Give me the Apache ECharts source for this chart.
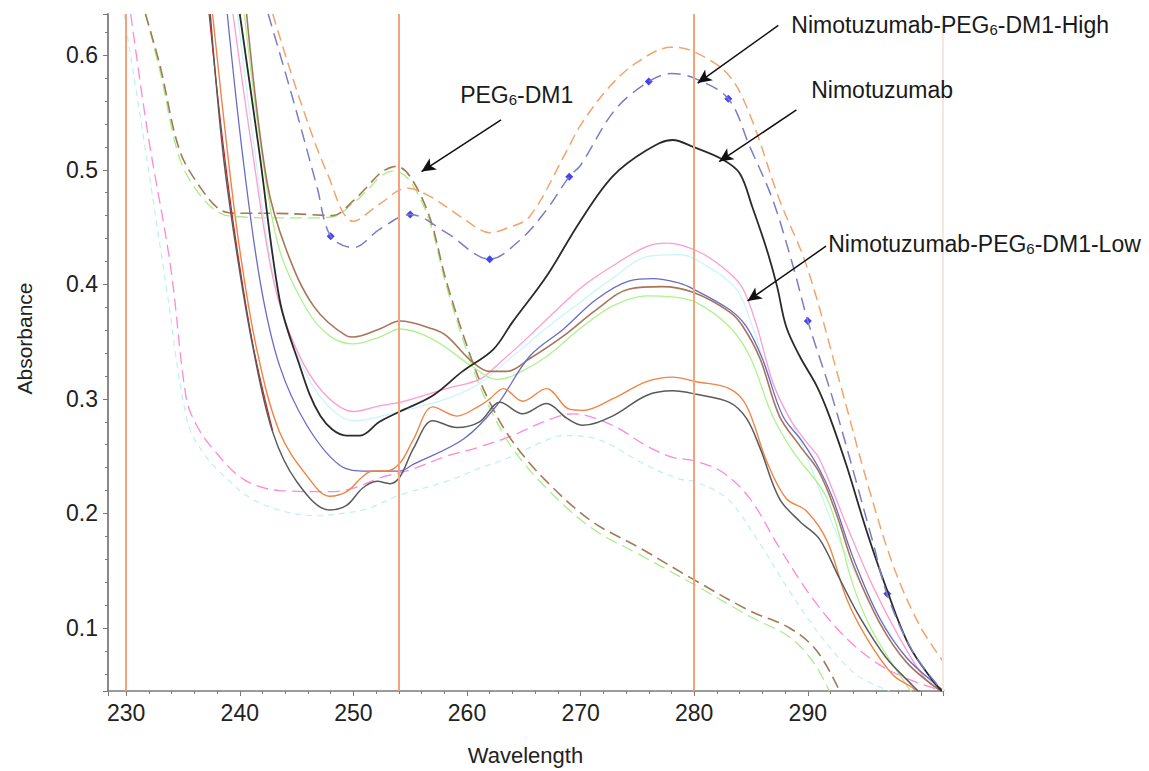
<!DOCTYPE html>
<html>
<head>
<meta charset="utf-8">
<title>UV absorbance spectra</title>
<script src="https://cdn.jsdelivr.net/npm/echarts@6/dist/echarts.min.js"></script>
<style>
  html, body { margin: 0; padding: 0; background: #fff; }
  #chart { width: 1149px; height: 771px; }
</style>
</head>
<body>
<div id="chart"></div>
<script>
// [wavelength nm, absorbance]
const orangeDashed = [[242.9,0.636],[245.3,0.561],[247.7,0.497],[250,0.455],[252.3,0.470],[254.7,0.484],[256.7,0.477],[259,0.462],[261.1,0.448],[262,0.445],[263.5,0.449],[265.5,0.459],[268.8,0.517],[270,0.539],[272.5,0.572],[275,0.594],[278,0.607],[280,0.603],[283,0.583],[284.9,0.548],[287.5,0.474],[289.9,0.416],[292.8,0.315],[295.2,0.228],[297.5,0.155],[299.8,0.103],[301.9,0.071]];
const purpleDashed = [[242.5,0.636],[244.7,0.561],[246.8,0.485],[248,0.442],[250,0.432],[252.3,0.448],[255,0.461],[258.2,0.445],[262,0.422],[264.7,0.439],[267,0.465],[269,0.494],[270,0.504],[273,0.552],[276,0.577],[278,0.584],[280,0.580],[283,0.562],[284.9,0.520],[286.9,0.474],[288.7,0.416],[290,0.368],[292.2,0.300],[295.7,0.176],[297,0.129],[299.2,0.080],[301.6,0.048],[302,0.045]];
const highMarkers = [[248,0.442],[255,0.461],[262,0.422],[269,0.494],[276,0.577],[283,0.562],[290,0.368],[297,0.130]];
const nimotuzumab = [[240,0.636],[241.7,0.517],[243.5,0.387],[245,0.337],[247.1,0.285],[249.4,0.268],[250.6,0.268],[252.3,0.280],[254.1,0.289],[257,0.303],[259.6,0.324],[262.3,0.343],[264,0.367],[267,0.407],[269.9,0.454],[272.8,0.494],[275.8,0.517],[278.1,0.526],[279.9,0.520],[282.5,0.509],[284,0.497],[285.1,0.468],[286.4,0.430],[287.3,0.398],[288.1,0.363],[289.3,0.337],[290.8,0.311],[291.9,0.285],[293.4,0.242],[295.2,0.184],[296.9,0.135],[298.9,0.085],[301,0.054],[301.8,0.045]];
const pinkSolid = [[239.4,0.636],[241.1,0.517],[243,0.402],[245,0.343],[247.3,0.306],[250,0.289],[252.3,0.294],[254.1,0.297],[258.2,0.309],[261.1,0.317],[262.6,0.329],[265.5,0.355],[269.9,0.396],[272.8,0.416],[275.8,0.433],[277.6,0.436],[280.5,0.428],[283.1,0.410],[284.3,0.396],[285.5,0.364],[286.9,0.315],[288.4,0.283],[289.9,0.262],[291,0.248],[293.4,0.190],[295.7,0.137],[298.1,0.091],[300.4,0.055],[301.9,0.045]];
const cyanSolid = [[239.8,0.636],[241.3,0.517],[243.2,0.395],[245.2,0.335],[247.5,0.297],[250,0.281],[254.1,0.289],[258.2,0.300],[261,0.313],[264,0.337],[267,0.362],[269.9,0.384],[272.8,0.405],[275.8,0.424],[278.7,0.426],[281.1,0.416],[283.7,0.396],[285.1,0.364],[286.6,0.320],[289,0.271],[289.9,0.250],[292.8,0.176],[295.7,0.120],[298.7,0.074],[301.9,0.045]];
const blueSolid = [[238.9,0.636],[240.2,0.517],[241.8,0.402],[243.5,0.329],[245.9,0.277],[248.8,0.242],[251.2,0.237],[254.1,0.237],[255.3,0.243],[259.7,0.265],[262.6,0.294],[265.5,0.337],[268.5,0.361],[271.4,0.387],[274.3,0.403],[276.4,0.405],[278.7,0.401],[279.9,0.396],[283.1,0.378],[284.6,0.363],[286,0.335],[287.8,0.285],[289.5,0.263],[291,0.239],[292.2,0.213],[294,0.161],[296.3,0.109],[298.7,0.074],[301.6,0.048],[302,0.045]];
const brownSolid = [[240.6,0.636],[242.4,0.489],[244.1,0.430],[246.5,0.381],[249.4,0.355],[250,0.354],[252.3,0.361],[254.1,0.368],[257,0.361],[258.2,0.355],[260.5,0.332],[262,0.324],[263.5,0.324],[265.5,0.335],[268.5,0.355],[271.4,0.378],[274.3,0.396],[277.2,0.398],[279.9,0.393],[283.1,0.376],[284.3,0.363],[285.8,0.335],[287.5,0.285],[289.3,0.259],[291,0.236],[292.5,0.200],[294,0.155],[296.3,0.105],[298.7,0.070],[301.7,0.045]];
const greenSolid = [[240.4,0.636],[241.9,0.517],[243.5,0.430],[245.9,0.378],[247.9,0.355],[250,0.348],[252.3,0.354],[254.1,0.361],[257,0.352],[260.5,0.328],[262.6,0.317],[264,0.320],[267,0.337],[269.9,0.361],[272.8,0.381],[275.8,0.390],[278.1,0.389],[280.2,0.384],[283.1,0.363],[284.9,0.337],[286.9,0.285],[288.7,0.254],[291.7,0.213],[294,0.137],[295.7,0.097],[298.7,0.050],[299.5,0.040]];
const orangeSolid = [[237.6,0.636],[238.9,0.517],[240,0.430],[241.5,0.343],[243.5,0.271],[245.9,0.233],[247.9,0.215],[249.4,0.219],[250.8,0.232],[251.7,0.237],[252.9,0.237],[254.1,0.244],[255.3,0.265],[257,0.293],[259.1,0.285],[261.1,0.294],[262,0.300],[263.2,0.309],[264.9,0.298],[267,0.309],[269,0.291],[270.2,0.290],[272.8,0.300],[275.8,0.315],[278.1,0.319],[280.2,0.315],[283.1,0.309],[284.6,0.294],[286.4,0.245],[288.1,0.213],[289.9,0.202],[291.7,0.176],[293.4,0.126],[295.2,0.091],[297.5,0.059],[299.2,0.048],[300,0.040]];
const graySolid = [[237.4,0.636],[238.5,0.517],[239.7,0.430],[241.2,0.343],[242.9,0.271],[245,0.228],[247.9,0.203],[249.4,0.207],[250.8,0.222],[252.1,0.228],[253.2,0.226],[254.1,0.232],[255.3,0.257],[257,0.281],[259.1,0.275],[261.1,0.280],[262.9,0.297],[264.9,0.287],[267,0.296],[268.8,0.283],[270.2,0.277],[272.8,0.285],[275.8,0.303],[278.1,0.307],[280.2,0.304],[283.1,0.297],[284.6,0.283],[285.8,0.257],[287.5,0.213],[289.3,0.193],[291,0.178],[292.8,0.143],[294.6,0.109],[296.9,0.074],[299.2,0.050],[300.2,0.040]];
const redSolid = [[237.3,0.636],[238.5,0.525],[239.7,0.435],[241.2,0.345],[242.9,0.272]];
const pinkDashed = [[230.4,0.636],[231.9,0.532],[233.9,0.416],[235.3,0.300],[236.2,0.277],[237.5,0.258],[240.3,0.230],[243.5,0.220],[247.9,0.219],[250,0.222],[252.3,0.231],[255,0.238],[258.2,0.250],[261.1,0.258],[264,0.268],[267,0.281],[269.3,0.287],[272.8,0.277],[275.8,0.259],[278.1,0.249],[280,0.246],[282.5,0.236],[284.9,0.213],[287.5,0.170],[290.4,0.126],[293.4,0.091],[296.3,0.068],[299.2,0.054],[301.6,0.046]];
const cyanDashed = [[229.8,0.636],[231.5,0.530],[233.5,0.400],[235.4,0.280],[237,0.250],[238.9,0.230],[241,0.213],[243.8,0.202],[246.8,0.198],[249,0.200],[251.2,0.204],[254.1,0.216],[258.2,0.228],[261,0.239],[264,0.250],[266.5,0.262],[268.5,0.268],[271.4,0.265],[275.8,0.242],[278.7,0.230],[280,0.228],[282.9,0.213],[285.5,0.178],[288.4,0.132],[291.3,0.091],[294.3,0.059],[297.2,0.045]];
const pegBrown = [[231.7,0.636],[233,0.590],[234.7,0.517],[236.5,0.485],[238.3,0.465],[240,0.462],[243,0.462],[246,0.461],[248.2,0.460],[250,0.473],[251.2,0.485],[252.5,0.498],[253.8,0.503],[255,0.494],[256.7,0.459],[258.2,0.402],[260.5,0.332],[262,0.297],[264,0.263],[267,0.228],[271,0.193],[275.2,0.170],[280,0.142],[284.9,0.115],[288.4,0.100],[290.8,0.080],[292.8,0.045]];
const pegGreen = [[231.7,0.636],[233,0.585],[234.7,0.510],[236.5,0.478],[238.3,0.462],[240,0.459],[243,0.458],[246,0.458],[248.2,0.459],[250,0.471],[251.2,0.482],[252.5,0.495],[253.6,0.499],[255,0.490],[256.7,0.455],[258.2,0.398],[260.5,0.327],[262,0.292],[264,0.257],[267,0.222],[271,0.187],[275.2,0.164],[280,0.138],[284.9,0.110],[288.4,0.092],[290.5,0.070],[291.9,0.045]];

const refLines = [230, 254, 280];
const edgeLine = [301.9];
const labelTexts = ['PEG{s|6}-DM1', 'Nimotuzumab-PEG{s|6}-DM1-High', 'Nimotuzumab', 'Nimotuzumab-PEG{s|6}-DM1-Low'];
const labelAnchors = [[259.4, 0.565], [288.55, 0.626], [290.3, 0.5696], [291.8, 0.435]];
const arrowFrom = [[263.0, 0.5435], [287.4, 0.626], [289.0, 0.5522], [291.6, 0.4333]];
const arrowTo = [[256.0, 0.4985], [280.3, 0.5757], [282.2, 0.5072], [284.7, 0.3855]];

const FONT = 'Liberation Sans, Arial, sans-serif';

function curve(name, data, color, width, dash) {
  return {
    name: name,
    type: 'line',
    data: data,
    smooth: 0.35,
    showSymbol: false,
    silent: true,
    clip: true,
    lineStyle: { color: color, width: width, type: dash || 'solid' }
  };
}

const chart = echarts.init(document.getElementById('chart'), null, { renderer: 'svg' });

chart.setOption({
  animation: false,
  backgroundColor: '#fff',
  grid: { left: 108, right: 206, top: 14, bottom: 78 },
  xAxis: {
    type: 'value',
    min: 228.4,
    max: 301.9,
    splitNumber: 7,
    name: 'Wavelength',
    nameLocation: 'middle',
    nameGap: 53,
    nameTextStyle: { fontFamily: FONT, fontSize: 22, color: '#222' },
    axisLine: { lineStyle: { color: '#7a7a7a', width: 1.5 } },
    axisTick: { length: 5, lineStyle: { color: '#7a7a7a' } },
    minorTick: { show: true, splitNumber: 5, length: 3, lineStyle: { color: '#7a7a7a' } },
    splitLine: { show: false },
    axisLabel: {
      margin: 10,
      fontFamily: FONT,
      fontSize: 23,
      color: '#222',
      formatter: function (v) {
        return (Math.abs(v % 10) < 1e-6 && v < 300) ? String(Math.round(v)) : '';
      }
    }
  },
  yAxis: {
    type: 'value',
    min: 0.045,
    max: 0.636,
    splitNumber: 6,
    name: 'Absorbance',
    nameLocation: 'middle',
    nameGap: 73,
    nameTextStyle: { fontFamily: FONT, fontSize: 21, color: '#222', padding: [0, 0, 0, 28] },
    axisLine: { show: true, lineStyle: { color: '#8a8a8a', width: 2 } },
    axisTick: { show: true, length: 5, lineStyle: { color: '#7a7a7a' } },
    minorTick: { show: true, splitNumber: 5, length: 3, lineStyle: { color: '#7a7a7a' } },
    splitLine: { show: false },
    axisLabel: {
      margin: 10,
      fontFamily: FONT,
      fontSize: 23,
      color: '#222',
      formatter: function (v) {
        return Math.abs(v * 10 - Math.round(v * 10)) < 1e-6 ? v.toFixed(1) : '';
      }
    }
  },
  series: [
    {
      name: 'reference lines',
      type: 'line',
      data: [],
      silent: true,
      markLine: {
        silent: true,
        symbol: ['none', 'none'],
        label: { show: false },
        lineStyle: { color: '#f3a27c', width: 2, type: 'solid' },
        data: refLines.map(function (x) { return { xAxis: x }; })
          .concat(edgeLine.map(function (x) {
            return { xAxis: x, lineStyle: { color: '#f2e8df', width: 2 } };
          }))
      }
    },
    curve('cyan dashed', cyanDashed, '#b9f2ee', 1.2, [6, 5]),
    curve('pink dashed', pinkDashed, '#ff88d8', 1.3, [12, 6]),
    curve('PEG6-DM1 b', pegGreen, '#a6ee86', 1.3, [12, 6]),
    curve('PEG6-DM1', pegBrown, '#a27a58', 1.6, [12, 6]),
    curve('red', redSolid, '#e01818', 1.2),
    curve('cyan', cyanSolid, '#c6f6f6', 1.2),
    curve('pink', pinkSolid, '#ff9ccf', 1.3),
    curve('green', greenSolid, '#aef28c', 1.3),
    curve('brown', brownSolid, '#a67656', 1.6),
    curve('blue', blueSolid, '#6a6ac8', 1.3),
    curve('orange', orangeSolid, '#f08444', 1.4),
    curve('gray', graySolid, '#5a5a5a', 1.5),
    curve('Nimotuzumab', nimotuzumab, '#2a2a2a', 1.8),
    curve('orange dashed', orangeDashed, '#f2a46c', 1.5, [11, 6]),
    curve('Nimotuzumab-PEG6-DM1-High', purpleDashed, '#7c7cc6', 1.5, [13, 7]),
    {
      name: 'High markers',
      type: 'scatter',
      data: highMarkers,
      symbol: 'diamond',
      symbolSize: 8,
      silent: true,
      itemStyle: { color: '#1414f0' }
    },
    {
      name: 'annotations',
      type: 'line',
      data: [],
      silent: true,
      markLine: {
        silent: true,
        symbol: ['none', 'arrow'],
        symbolSize: [10, 14],
        label: { show: false },
        lineStyle: { color: '#111', width: 1.5, type: 'solid' },
        itemStyle: { color: '#111' },
        data: arrowFrom.map(function (p, i) {
          return [{ coord: p }, { coord: arrowTo[i] }];
        })
      },
      markPoint: {
        silent: true,
        symbol: 'circle',
        symbolSize: 0,
        itemStyle: { color: 'rgba(0,0,0,0)' },
        label: {
          show: true,
          position: 'right',
          distance: 0,
          fontFamily: FONT,
          fontSize: 23,
          lineHeight: 24,
          color: '#1a1a1a',
          formatter: function (p) { return labelTexts[p.dataIndex]; },
          rich: {
            s: { fontFamily: FONT, fontSize: 15, lineHeight: 8, verticalAlign: 'bottom', color: '#1a1a1a' }
          }
        },
        data: labelAnchors.map(function (p) { return { coord: p }; })
      }
    }
  ]
});
</script>
</body>
</html>
